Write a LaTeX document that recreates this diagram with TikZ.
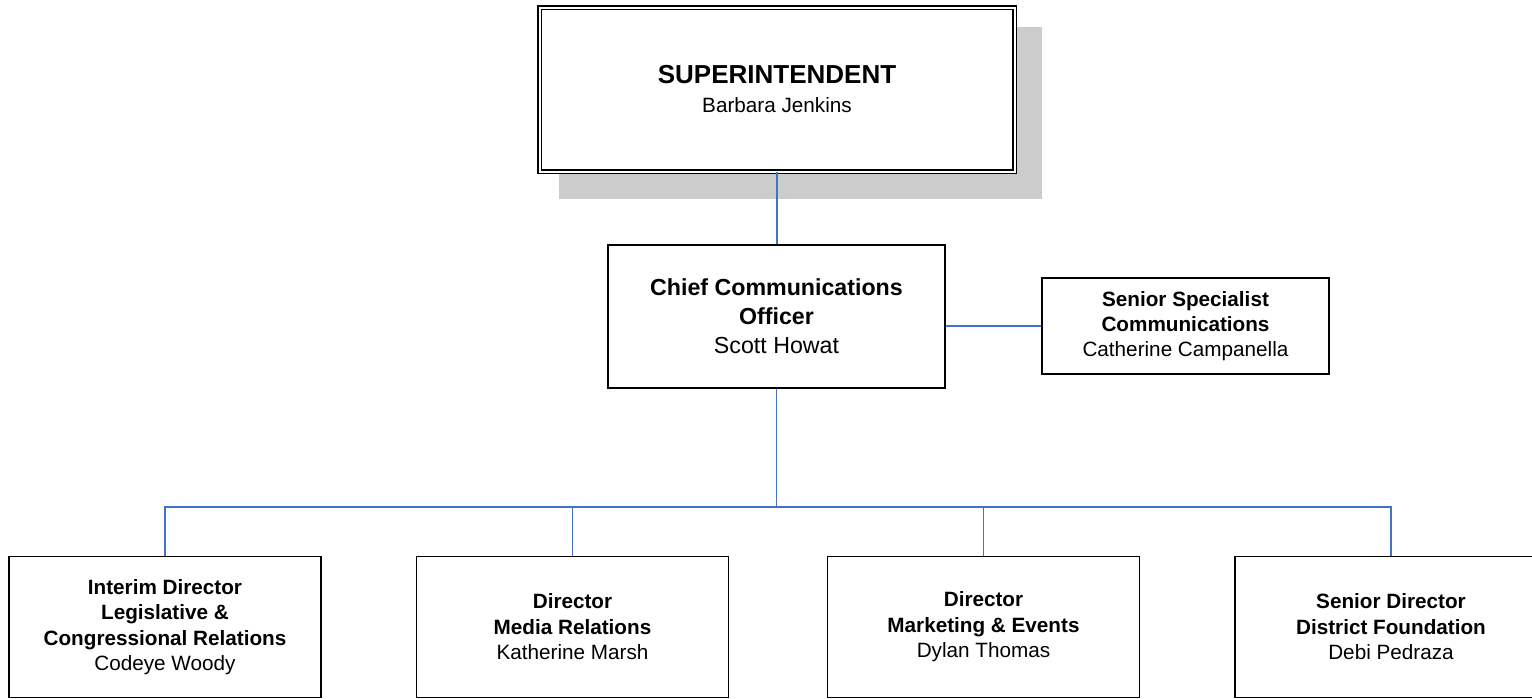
\documentclass[tikz,border=0pt]{standalone}
\usepackage{fontspec}
\setmainfont{Liberation Sans}
\definecolor{linkblue}{HTML}{4472C4}
\definecolor{shadowgray}{HTML}{CCCCCC}

\begin{document}
\begin{tikzpicture}[x=1pt, y=-1pt,
  box/.style={draw, line width=1.8pt, fill=white, align=center, inner sep=0pt},
  lowbox/.style={box, minimum width=312pt, minimum height=141pt,
    font=\fontsize{20.7}{25.5}\selectfont},
  link/.style={draw=linkblue, line width=1.8pt}]
  \useasboundingbox (0,0) rectangle (1532,699);
  \clip (0,0) rectangle (1532,699);

  % Superintendent (with shadow)
  \fill[shadowgray] (559,27) rectangle (1042,199);
  \node[box, double, double distance=2pt, line width=1.4pt,
    minimum width=475pt, minimum height=164pt,
    font=\fontsize{20.7}{29}\selectfont] (super) at (777,89.5)
    {{\fontsize{26}{29}\selectfont\bfseries SUPERINTENDENT}\\ Barbara Jenkins};

  % Chief officer and staff
  \node[box, minimum width=337pt, minimum height=143pt,
    font=\fontsize{23.2}{29}\selectfont] (cco) at (776.5,316.5)
    {\textbf{Chief Communications}\\ \textbf{Officer}\\ Scott Howat};
  \node[box, minimum width=287pt, minimum height=96pt,
    font=\fontsize{20.7}{25}\selectfont] (ssc) at (1185.5,326)
    {\textbf{Senior Specialist}\\ \textbf{Communications}\\ Catherine Campanella};

  % Directors
  \node[lowbox] (d1) at (165,627)
    {\textbf{Interim Director}\\ \textbf{Legislative \&}\\
     \textbf{Congressional Relations}\\ Codeye Woody};
  \node[lowbox] (d2) at (572.5,627)
    {\textbf{Director}\\ \textbf{Media Relations}\\ Katherine Marsh};
  \node[lowbox] (d3) at (983.5,627)
    {\textbf{Director}\\ \textbf{Marketing \& Events}\\ Dylan Thomas};
  \node[lowbox] (d4) at (1391,627)
    {\textbf{Senior Director}\\ \textbf{District Foundation}\\ Debi Pedraza};

  % Connectors
  \coordinate (bar) at (776.5,507);
  \draw[link] (super.south) -- (super.south |- cco.north);
  \draw[link] (ssc.west) -- (ssc.west -| cco.east);
  \draw[link] (cco.south) -- (bar);
  \draw[link] (d1.north) -- (d1.north |- bar) -- (d4.north |- bar) -- (d4.north);
  \foreach \n in {d2,d3}
    \draw[link] (\n.north) -- (\n.north |- bar);
\end{tikzpicture}
\end{document}
